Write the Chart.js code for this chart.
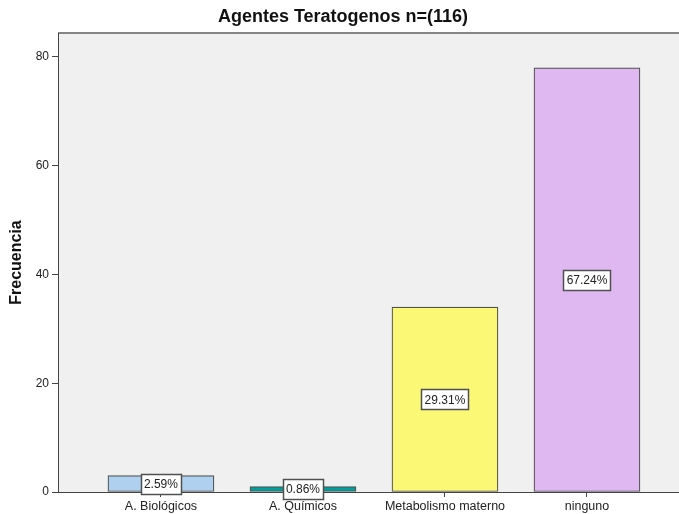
<!DOCTYPE html>
<html>
<head>
<meta charset="utf-8">
<script src="https://cdn.jsdelivr.net/npm/chart.js@4.4.1/dist/chart.umd.min.js"></script>
<style>
  html, body { margin: 0; padding: 0; background: #ffffff; }
  #wrap { width: 679px; height: 514px; }
</style>
</head>
<body>
<div id="wrap"><canvas id="c" width="679" height="514"></canvas></div>
<script>
const chartTitle = 'Agentes Teratogenos n=(116)';
const yAxisTitle = 'Frecuencia';
const categories = ['A. Biológicos', 'A. Químicos', 'Metabolismo materno', 'ninguno'];
const frequencies = [3, 1, 34, 78];
const percentLabels = ['2.59%', '0.86%', '29.31%', '67.24%'];
const yTickValues = [0, 20, 40, 60, 80];
const barColors = ['#afd1ef', '#00a09a', '#fbf876', '#dfb8f2'];

const FONT = "'Liberation Sans', Arial, sans-serif";

const plotBackground = {
  id: 'plotBackground',
  beforeDraw(chart) {
    const { ctx, chartArea: a } = chart;
    ctx.save();
    ctx.fillStyle = '#f0f0f0';
    ctx.fillRect(a.left, a.top, a.right - a.left + 5, a.bottom - a.top);
    ctx.strokeStyle = '#858585';
    ctx.lineWidth = 2;
    ctx.beginPath();
    ctx.moveTo(a.left, a.top);
    ctx.lineTo(chart.width, a.top);
    ctx.stroke();
    ctx.restore();
  }
};

const percentBoxes = {
  id: 'percentBoxes',
  afterDatasetsDraw(chart) {
    const { ctx } = chart;
    const meta = chart.getDatasetMeta(0);
    ctx.save();
    ctx.font = '12px ' + FONT;
    ctx.textAlign = 'center';
    ctx.textBaseline = 'middle';
    meta.data.forEach((bar, i) => {
      const txt = percentLabels[i];
      const cy = (bar.y + bar.base) / 2;
      const w = Math.round(ctx.measureText(txt).width + 6);
      const h = 20;
      const x0 = Math.round(bar.x - w / 2) + 0.5;
      const y0 = Math.round(cy - h / 2) + 0.5;
      ctx.fillStyle = '#ffffff';
      ctx.fillRect(x0, y0, w, h);
      ctx.strokeStyle = '#505050';
      ctx.lineWidth = 1.5;
      ctx.strokeRect(x0, y0, w, h);
      ctx.fillStyle = '#222222';
      ctx.fillText(txt, bar.x, cy + 1);
    });
    ctx.restore();
  }
};

new Chart(document.getElementById('c'), {
  type: 'bar',
  data: {
    datasets: [{
      data: frequencies.map((v, i) => ({ x: i, y: v })),
      backgroundColor: barColors,
      borderColor: '#505050',
      borderWidth: 1.2,
      borderSkipped: false,
      barThickness: 106
    }]
  },
  options: {
    responsive: false,
    animation: false,
    devicePixelRatio: 1,
    layout: { padding: { top: 0, right: 0, bottom: 0, left: 7 } },
    plugins: {
      legend: { display: false },
      tooltip: { enabled: false },
      title: {
        display: true,
        text: chartTitle,
        color: '#111111',
        font: { family: FONT, size: 18, weight: 'bold' },
        padding: { top: 6, bottom: 5.4 }
      }
    },
    scales: {
      x: {
        type: 'linear',
        offset: false,
        min: -0.725,
        max: 3.648,
        afterBuildTicks(scale) {
          scale.ticks = categories.map((c, i) => ({ value: i }));
        },
        afterFit(scale) { scale.height = 22; },
        ticks: {
          autoSkip: false,
          maxRotation: 0,
          padding: 2,
          color: '#222222',
          font: { family: FONT, size: 12.5 },
          callback: (v) => categories[v]
        },
        grid: {
          display: true,
          offset: false,
          drawOnChartArea: false,
          drawTicks: true,
          tickLength: 5,
          color: '#444444'
        },
        border: { display: true, color: '#444444', width: 1 }
      },
      y: {
        min: 0,
        max: 84.4,
        afterBuildTicks(scale) {
          scale.ticks = yTickValues.map(v => ({ value: v }));
        },
        afterFit(scale) { scale.width = 51; },
        ticks: {
          padding: 3,
          color: '#222222',
          font: { family: FONT, size: 12 }
        },
        grid: {
          display: true,
          drawOnChartArea: false,
          drawTicks: true,
          tickLength: 6,
          color: '#444444'
        },
        border: { display: true, color: '#444444', width: 1 },
        title: {
          display: true,
          text: yAxisTitle,
          color: '#111111',
          font: { family: FONT, size: 16, weight: 'bold' },
          padding: { top: 0, bottom: 0 }
        }
      }
    }
  },
  plugins: [plotBackground, percentBoxes]
});
</script>
</body>
</html>
